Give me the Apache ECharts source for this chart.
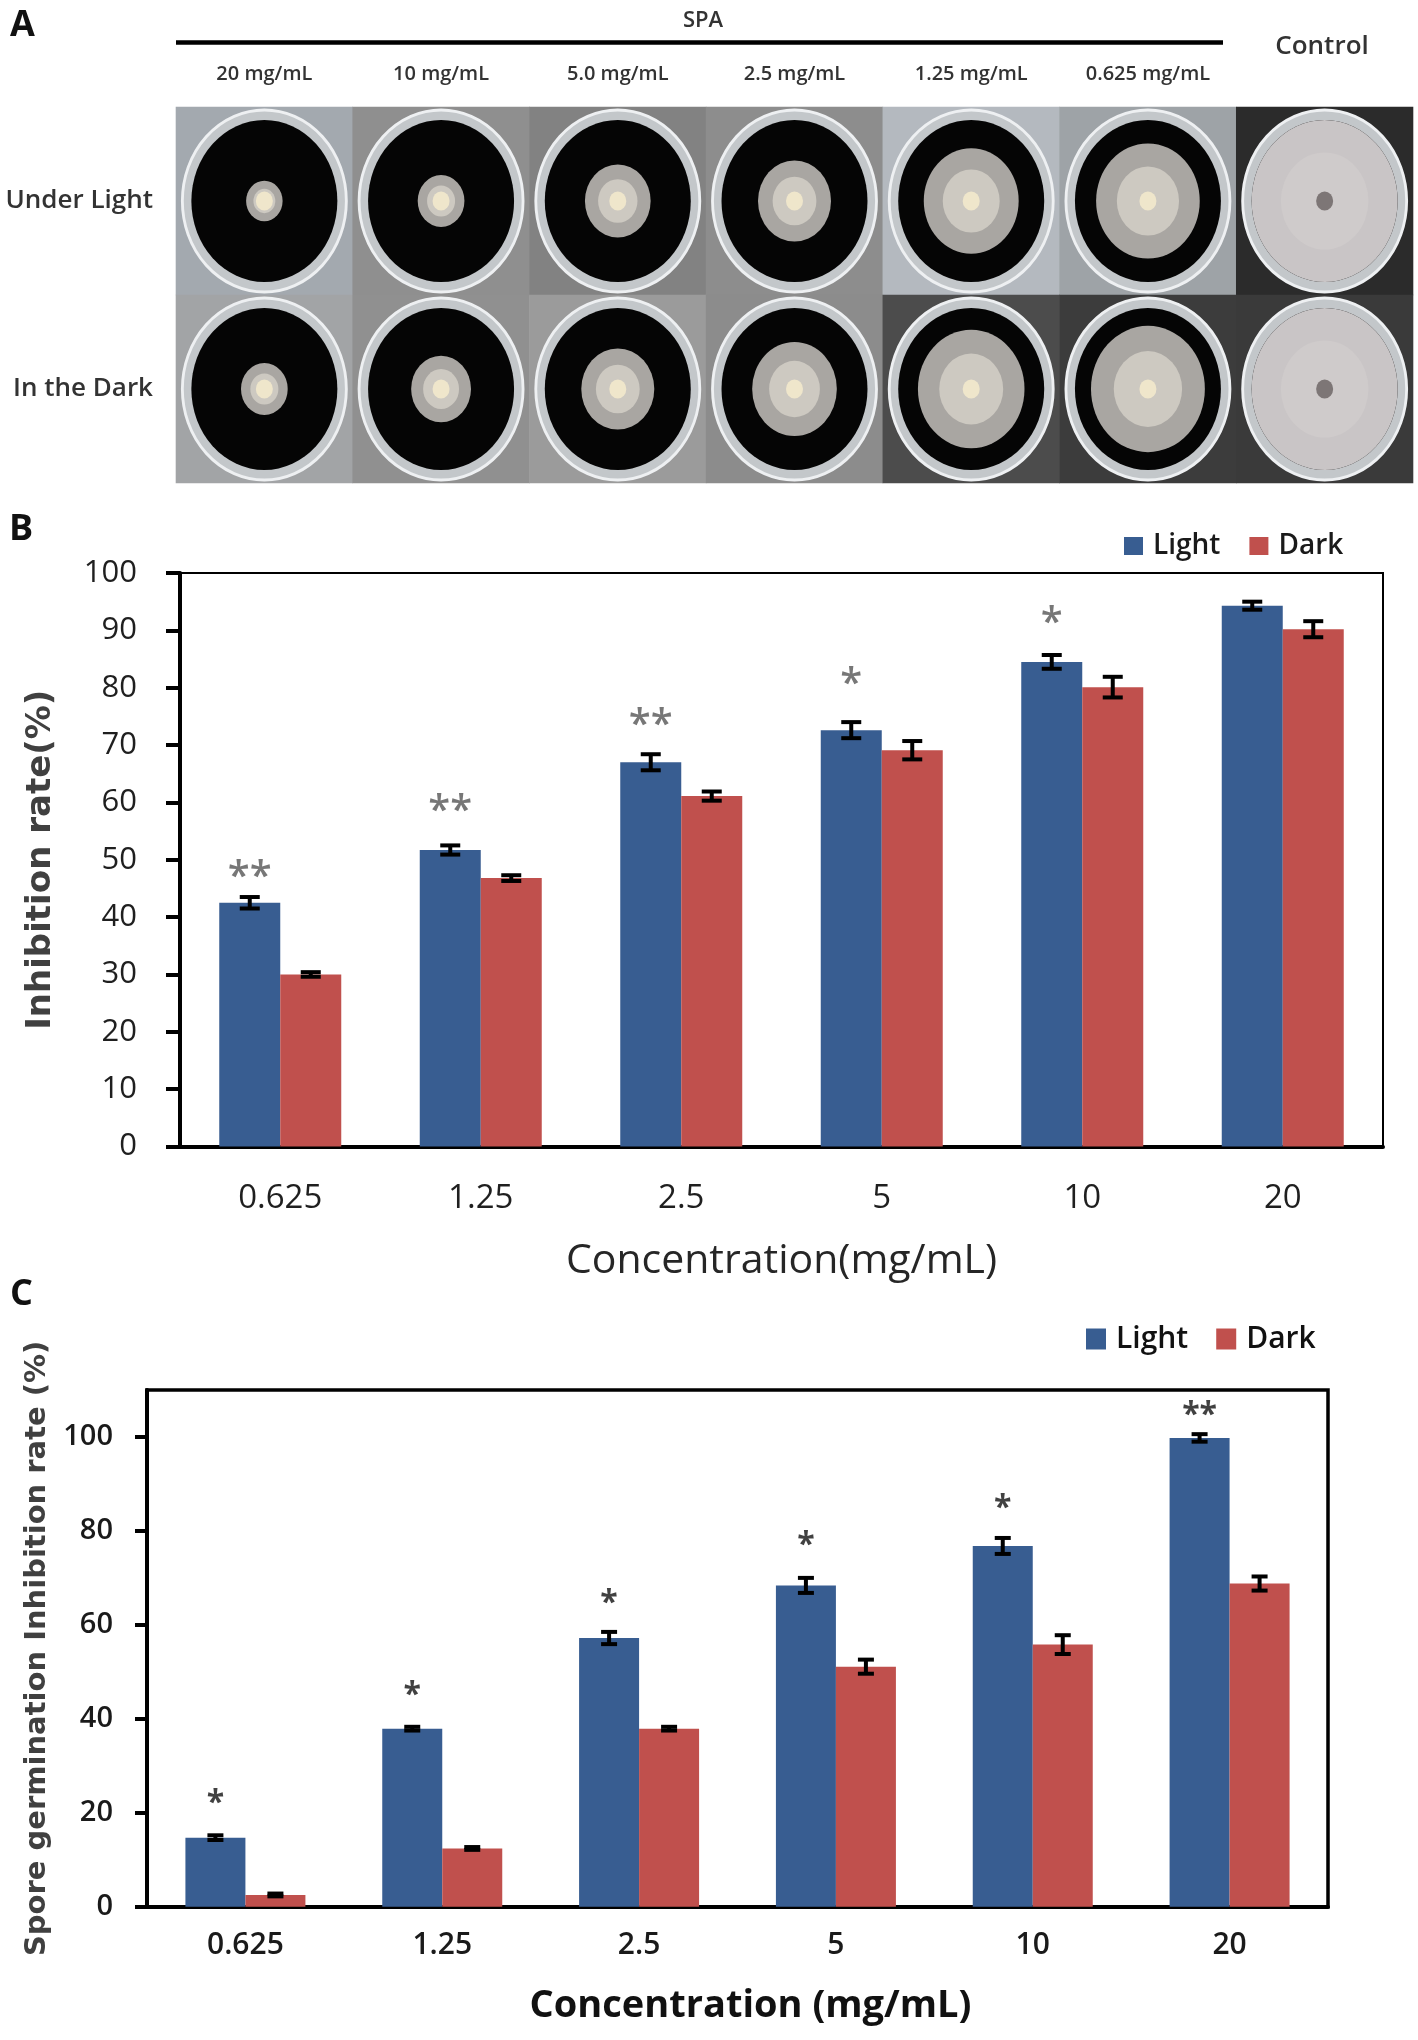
<!DOCTYPE html>
<html>
<head>
<meta charset="utf-8">
<script src="https://cdn.jsdelivr.net/npm/echarts@6/dist/echarts.min.js"></script>
<style>
  html, body { margin: 0; padding: 0; background: #fff; }
  #main { width: 1418px; height: 2040px; }
</style>
</head>
<body>
<div id="main"></div>
<script>
// ---- panel A: plates ----
const plateLabels = ['20 mg/mL', '10 mg/mL', '5.0 mg/mL', '2.5 mg/mL', '1.25 mg/mL', '0.625 mg/mL', 'Control'];
const plateRows = ['Under Light', 'In the Dark'];
// colony diameter as a fraction of the agar diameter
const colonyLight = [0.25, 0.32, 0.45, 0.50, 0.65, 0.71, 1.0];
const colonyDark = [0.32, 0.41, 0.50, 0.58, 0.73, 0.78, 1.0];

// ---- panels B and C ----
const concLabels = ['0.625', '1.25', '2.5', '5', '10', '20'];

const inhibLight = [42.5, 51.7, 67.0, 72.6, 84.5, 94.3];
const inhibLightErr = [1.0, 0.8, 1.4, 1.4, 1.2, 0.7];
const inhibDark = [30.0, 46.8, 61.1, 69.1, 80.1, 90.2];
const inhibDarkErr = [0.4, 0.5, 0.8, 1.6, 1.8, 1.4];
const inhibSig = ['**', '**', '**', '*', '*', ''];
const inhibSigAt = [48.0, 59.5, 74.4, 81.5, 92.3, 0];   // height of the marks, in %

const sporeLight = [14.7, 37.9, 57.2, 68.4, 76.8, 99.8];
const sporeLightErr = [0.5, 0.4, 1.3, 1.6, 1.7, 0.8];
const sporeDark = [2.5, 12.4, 37.9, 51.1, 55.8, 68.8];
const sporeDarkErr = [0.3, 0.3, 0.4, 1.5, 2.0, 1.5];
const sporeSig = ['*', '*', '*', '*', '*', '**'];
const sporeSigAt = [23.2, 46.2, 65.8, 78.1, 85.9, 105.8];

const inhibTicks = { min: 0, max: 100, interval: 10 };
const sporeTicks = { min: 0, max: 110, interval: 20 };

// styles
const BLUE = '#385d91';
const RED = '#c0504d';
const SANS = '"Open Sans", "Noto Sans", sans-serif';
const VERD = '"DejaVu Sans", Verdana, sans-serif';
const tileShade = [
  ['#a3a9af', '#8f8f8f', '#828282', '#8d8d8d', '#b4b9bf', '#9ea3a7', '#2b2b2b'],
  ['#a2a4a6', '#909090', '#9b9b9b', '#8c8c8c', '#4c4c4c', '#3c3c3c', '#3a3a3a']
];
const CELL_W = 1237 / 7;
const CELL_H = 376 / 2;
const AGAR_W = 146, AGAR_H = 162;

const chart = echarts.init(document.getElementById('main'), null, { renderer: 'canvas' });

// plate cells [col, row, colony]
const cells = [];
[colonyLight, colonyDark].forEach(function (arr, r) {
  arr.forEach(function (d, c) { cells.push([c, r, d]); });
});

function plateLayer(name, size, colorFn, z, symbol, border) {
  return {
    type: 'scatter', name: name, xAxisIndex: 0, yAxisIndex: 0, z: z, silent: true,
    symbol: symbol || 'circle',
    symbolSize: size,
    itemStyle: Object.assign({ opacity: 1 }, border || {}),
    data: cells.map(function (v) {
      return { value: v, itemStyle: { color: colorFn(v[0], v[1]) } };
    })
  };
}

function errorBars(xi, vals, errs, side, barW, cap) {
  return {
    type: 'custom', xAxisIndex: xi, yAxisIndex: xi, z: 5, silent: true,
    data: vals.map(function (v, i) { return [i, v, errs[i]]; }),
    encode: { x: 0, y: 1 },
    renderItem: function (params, api) {
      const i = api.value(0), v = api.value(1), e = api.value(2);
      const top = api.coord([i, v + e]);
      const bot = api.coord([i, v - e]);
      const x = top[0] + side * barW / 2;
      const st = { stroke: '#000', lineWidth: 4 };
      return {
        type: 'group', children: [
          { type: 'line', shape: { x1: x, y1: top[1], x2: x, y2: bot[1] }, style: st },
          { type: 'line', shape: { x1: x - cap, y1: top[1], x2: x + cap, y2: top[1] }, style: st },
          { type: 'line', shape: { x1: x - cap, y1: bot[1], x2: x + cap, y2: bot[1] }, style: st }
        ]
      };
    }
  };
}

function stars(xi, sig, at, barW, font) {
  return {
    type: 'scatter', xAxisIndex: xi, yAxisIndex: xi, z: 6, silent: true,
    symbolSize: 1, itemStyle: { color: 'rgba(0,0,0,0)' },
    data: at.map(function (y, i) { return [i, y]; }),
    label: Object.assign({
      show: true, position: 'inside', offset: [-barW / 2, 6],
      formatter: function (p) { return sig[p.dataIndex]; },
      fontFamily: SANS
    }, font)
  };
}

function barPair(xi, light, dark, barW) {
  return [
    { type: 'bar', name: 'Light', xAxisIndex: xi, yAxisIndex: xi, data: light, barWidth: barW, barGap: '0%',
      itemStyle: { color: BLUE }, silent: true },
    { type: 'bar', name: 'Dark', xAxisIndex: xi, yAxisIndex: xi, data: dark, barWidth: barW, barGap: '0%',
      itemStyle: { color: RED }, silent: true }
  ];
}

const option = {
  animation: false,
  backgroundColor: '#fff',
  grid: [
    { left: 176, top: 107, width: 1237, height: 376, outerBoundsMode: 'none' },
    { left: 180, top: 573, width: 1203, height: 573.5, show: true, borderColor: '#000', borderWidth: 2, outerBoundsMode: 'none' },
    { left: 147, top: 1390, width: 1181, height: 516.7, show: true, borderColor: '#000', borderWidth: 3.5, outerBoundsMode: 'none' }
  ],
  legend: [
    { left: 1124, top: 532, padding: 0, itemWidth: 19, itemHeight: 18, itemGap: 29, icon: 'rect',
      data: ['Light', 'Dark'], selectedMode: false,
      textStyle: { fontFamily: SANS, fontSize: 28, fontWeight: 600, color: '#1a1a1a', padding: [0, 0, 0, 5] } },
    { left: 1086, top: 1324, padding: 0, itemWidth: 20, itemHeight: 21, itemGap: 28, icon: 'rect',
      data: ['Light', 'Dark'], selectedMode: false,
      textStyle: { fontFamily: SANS, fontSize: 30, fontWeight: 600, color: '#111', padding: [0, 0, 0, 5] } }
  ],
  xAxis: [
    { gridIndex: 0, type: 'category', data: plateLabels, position: 'top',
      axisLine: { show: false }, axisTick: { show: false }, splitLine: { show: false },
      axisLabel: { margin: 23, fontFamily: SANS, fontSize: 20, fontWeight: 600, color: '#333',
        formatter: function (v) { return v === 'Control' ? '' : v; } } },
    { gridIndex: 1, type: 'category', data: concLabels,
      axisLine: { lineStyle: { color: '#000', width: 4 } },
      axisTick: { length: 14, lineStyle: { color: '#000', width: 4 } },
      axisLabel: { margin: 36, fontFamily: SANS, fontSize: 33, color: '#1f1f1f' },
      name: 'Concentration(mg/mL)', nameLocation: 'middle', nameGap: 94,
      nameTextStyle: { fontFamily: SANS, fontSize: 41, color: '#262626' } },
    { gridIndex: 2, type: 'category', data: concLabels,
      axisLine: { lineStyle: { color: '#000', width: 4 } },
      axisTick: { length: 11, lineStyle: { color: '#000', width: 4 } },
      axisLabel: { margin: 24, fontFamily: SANS, fontSize: 30, fontWeight: 600, color: '#1a1a1a' },
      name: 'Concentration (mg/mL)', nameLocation: 'middle', nameGap: 80,
      nameTextStyle: { fontFamily: SANS, fontSize: 38, fontWeight: 'bold', color: '#111', padding: [0, 0, 0, 26] } }
  ],
  yAxis: [
    { gridIndex: 0, type: 'category', data: plateRows, inverse: true,
      axisLine: { show: false }, axisTick: { show: false }, splitLine: { show: false },
      axisLabel: { margin: 23, fontFamily: SANS, fontSize: 26, fontWeight: 600, color: '#333' } },
    { gridIndex: 1, type: 'value', min: inhibTicks.min, max: inhibTicks.max, interval: inhibTicks.interval,
      splitLine: { show: false },
      axisLine: { show: true, lineStyle: { color: '#000', width: 4 } },
      axisTick: { show: true, length: 14, lineStyle: { color: '#000', width: 4 } },
      axisLabel: { margin: 43, fontFamily: SANS, fontSize: 31, color: '#1f1f1f' },
      name: 'Inhibition rate(%)', nameLocation: 'middle', nameRotate: 90, nameGap: 122,
      nameTextStyle: { fontFamily: VERD, fontSize: 34, fontWeight: 'bold', color: '#404040' } },
    { gridIndex: 2, type: 'value', min: sporeTicks.min, max: sporeTicks.max, interval: sporeTicks.interval,
      splitLine: { show: false },
      axisLine: { show: true, lineStyle: { color: '#000', width: 4 } },
      axisTick: { show: true, length: 12, lineStyle: { color: '#000', width: 4 } },
      axisLabel: { margin: 34, fontFamily: SANS, fontSize: 29, fontWeight: 600, color: '#1a1a1a', showMaxLabel: false,
        formatter: function (v) { return v % sporeTicks.interval === 0 ? String(v) : ''; } },
      name: 'Spore germination Inhibition rate (%)', nameLocation: 'middle', nameRotate: 90, nameGap: 92,
      nameTextStyle: { fontFamily: VERD, fontSize: 29, fontWeight: 'bold', color: '#404040' } }
  ],
  series: [
    // plate tiles
    plateLayer('tile', [CELL_W + 0.6, CELL_H + 0.6], function (c, r) { return tileShade[r][c]; }, 1, 'rect'),
    plateLayer('rim', [164, 182], function () { return '#c3c7ca'; }, 2, 'circle',
      { borderColor: '#eef0f2', borderWidth: 3 }),
    plateLayer('agar', [AGAR_W, AGAR_H], function () { return '#050505'; }, 3),
    plateLayer('colony', function (v) { return [v[2] * AGAR_W, v[2] * AGAR_H]; },
      function (c) { return c === 6 ? '#c9c5c6' : '#a9a6a2'; }, 4),
    plateLayer('colonyInner', function (v) { return [v[2] * AGAR_W * 0.6, v[2] * AGAR_H * 0.6]; },
      function (c) { return c === 6 ? '#cfcbcb' : '#cdc9c1'; }, 5),
    plateLayer('plug', [17, 19], function (c) { return c === 6 ? '#7d7676' : '#efe6cb'; }, 6),

    // B
    ...barPair(1, inhibLight, inhibDark, 61),
    errorBars(1, inhibLight, inhibLightErr, -1, 61, 10),
    errorBars(1, inhibDark, inhibDarkErr, 1, 61, 10),
    stars(1, inhibSig, inhibSigAt, 61, { fontSize: 40, fontWeight: 600, color: '#555' }),

    // C
    ...barPair(2, sporeLight, sporeDark, 60),
    errorBars(2, sporeLight, sporeLightErr, -1, 60, 8),
    errorBars(2, sporeDark, sporeDarkErr, 1, 60, 8),
    stars(2, sporeSig, sporeSigAt, 60, { fontSize: 32, fontWeight: 'bold', color: '#111' })
  ],
  graphic: [
    { type: 'text', left: 10, top: 8, style: { text: 'A', font: 'bold 36px ' + SANS, fill: '#111' } },
    { type: 'text', left: 9, top: 512, style: { text: 'B', font: 'bold 36px ' + SANS, fill: '#111' } },
    { type: 'text', left: 10, top: 1277, style: { text: 'C', font: 'bold 36px ' + SANS, fill: '#111' } },
    { type: 'text', x: 703, y: 21, style: { text: 'SPA', font: '600 22px ' + SANS, fill: '#333',
      textAlign: 'center', textVerticalAlign: 'middle' } },
    { type: 'line', shape: { x1: 176, y1: 42.5, x2: 1223, y2: 42.5 }, style: { stroke: '#000', lineWidth: 4.5 } },
    { type: 'text', x: 1322, y: 47, style: { text: 'Control', font: '600 26px ' + SANS, fill: '#333',
      textAlign: 'center', textVerticalAlign: 'middle' } }
  ]
};

chart.setOption(option);
</script>
</body>
</html>
